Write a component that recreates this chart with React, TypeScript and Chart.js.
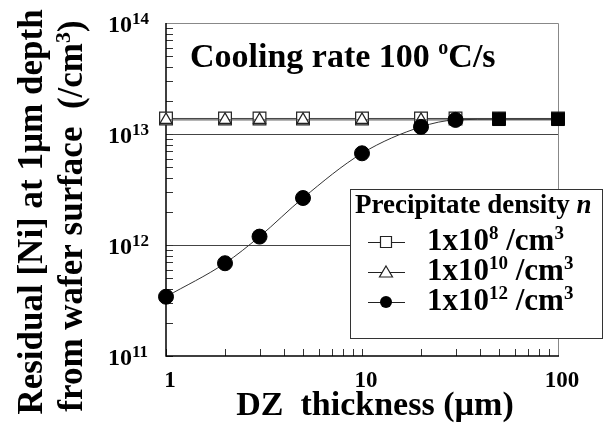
import { useEffect, useRef } from 'react';
import { Chart, registerables } from 'chart.js';

Chart.register(...registerables);

// ---- data ----
const dzThickness = [1, 2, 3, 5, 10, 20, 30, 50, 100];
const niDensity1e8 = [1.38e13, 1.38e13, 1.38e13, 1.38e13, 1.38e13, 1.38e13, 1.38e13, 1.38e13, 1.38e13];
const niDensity1e10 = [1.34e13, 1.34e13, 1.34e13, 1.34e13, 1.34e13, 1.34e13, 1.34e13, 1.34e13, 1.34e13];
const niDensity1e12 = [3.42e11, 6.85e11, 1.19e12, 2.65e12, 6.7e12, 1.16e13, 1.34e13, 1.36e13, 1.36e13];
const densityExponents = ['8', '10', '12'];
const yMajorTicks = [1e11, 1e12, 1e13, 1e14];
const yTickExponents = ['11', '12', '13', '14'];
const yGridValues = [1e12, 1e13];
const xMajorTicks = [1, 10, 100];
const xTickLabels = ['1', '10', '100'];

const FAMILY = '"Liberation Serif", "Times New Roman", Times, serif';
const fnt = (size: number, italic = false) => `${italic ? 'italic ' : ''}bold ${size}px ${FAMILY}`;

type Part = { t: string; sup?: boolean; it?: boolean };

function richWidth(ctx: CanvasRenderingContext2D, parts: Part[], size: number, supSize: number) {
  let w = 0;
  for (const p of parts) {
    ctx.font = fnt(p.sup ? supSize : size, p.it);
    w += ctx.measureText(p.t).width;
  }
  return w;
}

function drawRich(
  ctx: CanvasRenderingContext2D,
  parts: Part[],
  x: number,
  y: number,
  size: number,
  supSize: number,
  supRaise: number
) {
  let cx = x;
  ctx.textAlign = 'left';
  ctx.textBaseline = 'alphabetic';
  for (const p of parts) {
    ctx.font = fnt(p.sup ? supSize : size, p.it);
    ctx.fillText(p.t, cx, p.sup ? y - supRaise : y);
    cx += ctx.measureText(p.t).width;
  }
  return cx;
}

function drawMarker(ctx: CanvasRenderingContext2D, style: string, x: number, y: number) {
  ctx.save();
  ctx.lineWidth = 1.2;
  ctx.strokeStyle = '#222';
  ctx.beginPath();
  if (style === 'rect') {
    ctx.fillStyle = '#fff';
    ctx.rect(x - 5.5, y - 5.5, 11, 11);
    ctx.fill();
    ctx.stroke();
  } else if (style === 'triangle') {
    ctx.fillStyle = '#fff';
    ctx.moveTo(x, y - 6);
    ctx.lineTo(x + 6.5, y + 5);
    ctx.lineTo(x - 6.5, y + 5);
    ctx.closePath();
    ctx.fill();
    ctx.stroke();
  } else {
    ctx.fillStyle = '#000';
    ctx.arc(x, y, 6, 0, Math.PI * 2);
    ctx.fill();
  }
  ctx.restore();
}

const framePlugin = {
  id: 'framePlugin',
  beforeDatasetsDraw(chart: any) {
    const { ctx, chartArea } = chart;
    const { left, right, top, bottom } = chartArea;
    const xs = chart.scales.x;
    const ys = chart.scales.y;
    ctx.save();
    // gridlines
    ctx.strokeStyle = '#444';
    ctx.lineWidth = 1;
    for (const v of yGridValues) {
      const py = Math.round(ys.getPixelForValue(v)) + 0.5;
      ctx.beginPath();
      ctx.moveTo(left, py);
      ctx.lineTo(right, py);
      ctx.stroke();
    }
    // top & right frame
    ctx.strokeStyle = '#888';
    ctx.beginPath();
    ctx.moveTo(left, top + 0.5);
    ctx.lineTo(right + 0.5, top + 0.5);
    ctx.lineTo(right + 0.5, bottom);
    ctx.stroke();
    // minor ticks y
    ctx.strokeStyle = '#333';
    for (let d = 11; d <= 13; d++) {
      for (let m = 1; m <= 9; m++) {
        const py = Math.round(ys.getPixelForValue(m * Math.pow(10, d))) + 0.5;
        ctx.beginPath();
        ctx.moveTo(left, py);
        ctx.lineTo(left + 7, py);
        ctx.stroke();
      }
    }
    // minor ticks x
    for (let d = 0; d <= 1; d++) {
      for (let m = 1; m <= 9; m++) {
        const px = Math.round(xs.getPixelForValue(m * Math.pow(10, d))) + 0.5;
        ctx.beginPath();
        ctx.moveTo(px, bottom);
        ctx.lineTo(px, bottom - 7);
        ctx.stroke();
      }
    }
    // left & bottom axes
    ctx.strokeStyle = '#000';
    ctx.lineWidth = 1.5;
    ctx.beginPath();
    ctx.moveTo(left, top);
    ctx.lineTo(left, bottom);
    ctx.lineTo(right + 1, bottom);
    ctx.stroke();
    ctx.restore();
  },
  afterDraw(chart: any) {
    const { ctx, chartArea } = chart;
    const xs = chart.scales.x;
    const ys = chart.scales.y;
    ctx.save();
    ctx.fillStyle = '#000';

    // y tick labels 10^n
    yMajorTicks.forEach((v, i) => {
      const py = ys.getPixelForValue(v);
      drawRich(ctx, [{ t: '10' }, { t: yTickExponents[i], sup: true }], 108, py + 9, 24, 17, 8);
    });

    // x tick labels
    ctx.font = fnt(23);
    ctx.textAlign = 'center';
    ctx.textBaseline = 'alphabetic';
    xMajorTicks.forEach((v, i) => {
      ctx.fillText(xTickLabels[i], xs.getPixelForValue(v) + 4, 387);
    });

    // x axis title
    ctx.font = fnt(34);
    ctx.fillText('DZ  thickness (\u00b5m)', 375, 415);

    // y axis title (two lines, rotated)
    const line1: Part[] = [{ t: 'Residual [Ni] at 1\u00b5m depth' }];
    const line2: Part[] = [{ t: 'from wafer surface  (/cm' }, { t: '3', sup: true }, { t: ')' }];
    ctx.save();
    ctx.translate(42, 212);
    ctx.rotate(-Math.PI / 2);
    drawRich(ctx, line1, -richWidth(ctx, line1, 35, 22) / 2, 0, 35, 22, 12);
    ctx.restore();
    ctx.save();
    ctx.translate(82, 216);
    ctx.rotate(-Math.PI / 2);
    drawRich(ctx, line2, -richWidth(ctx, line2, 35, 22) / 2, 0, 35, 22, 12);
    ctx.restore();

    // annotation
    drawRich(
      ctx,
      [{ t: 'Cooling rate 100 ' }, { t: 'o', sup: true }, { t: 'C/s' }],
      190,
      67,
      34,
      20,
      13
    );

    // legend box
    const lx = 350, ly = 189, lw = 252, lh = 149;
    ctx.fillStyle = '#fff';
    ctx.fillRect(lx, ly, lw, lh);
    ctx.strokeStyle = '#333';
    ctx.lineWidth = 1;
    ctx.strokeRect(lx + 0.5, ly + 0.5, lw, lh);
    ctx.fillStyle = '#000';
    drawRich(ctx, [{ t: 'Precipitate density ' }, { t: 'n', it: true }], 355, 213, 27, 18, 10);
    const styles = ['rect', 'triangle', 'circle'];
    densityExponents.forEach((e, i) => {
      const yb = 250 + i * 30;
      const ym = yb - 8;
      ctx.strokeStyle = '#222';
      ctx.lineWidth = 1;
      ctx.beginPath();
      ctx.moveTo(368, ym + 0.5);
      ctx.lineTo(405, ym + 0.5);
      ctx.stroke();
      drawMarker(ctx, styles[i], 386, ym);
      ctx.fillStyle = '#000';
      drawRich(ctx, [{ t: '1x10' }, { t: e, sup: true }, { t: ' /cm' }, { t: '3', sup: true }], 427, yb, 31, 19, 11);
    });
    ctx.restore();
  },
};

export default function App() {
  const canvasRef = useRef<HTMLCanvasElement | null>(null);

  useEffect(() => {
    const canvas = canvasRef.current;
    if (!canvas) return;
    const pts = (ys: number[]) => dzThickness.map((x, i) => ({ x, y: ys[i] }));
    const chart = new Chart(canvas, {
      type: 'line',
      data: {
        datasets: [
          {
            label: '1x10^12 /cm^3',
            data: pts(niDensity1e12),
            borderColor: '#333',
            borderWidth: 1,
            pointStyle: ['circle', 'circle', 'circle', 'circle', 'circle', 'circle', 'circle', 'rect', 'rect'] as any,
            pointRadius: [7.5, 7.5, 7.5, 7.5, 7.5, 7.5, 7.5, 9, 9] as any,
            pointBackgroundColor: '#000',
            pointBorderColor: '#000',
            pointBorderWidth: 1,
            cubicInterpolationMode: 'monotone',
            order: 1,
            clip: false as any,
          },
          {
            label: '1x10^10 /cm^3',
            data: pts(niDensity1e10),
            borderColor: '#444',
            borderWidth: 1,
            pointStyle: 'triangle',
            pointRadius: 7,
            pointBackgroundColor: '#fff',
            pointBorderColor: '#222',
            pointBorderWidth: 1.2,
            order: 2,
            clip: false as any,
          },
          {
            label: '1x10^8 /cm^3',
            data: pts(niDensity1e8),
            borderColor: '#444',
            borderWidth: 1,
            pointStyle: 'rect',
            pointRadius: 9,
            pointBackgroundColor: '#fff',
            pointBorderColor: '#222',
            pointBorderWidth: 1.2,
            order: 3,
            clip: false as any,
          },
        ],
      },
      options: {
        responsive: false,
        animation: false,
        devicePixelRatio: 1,
        events: [],
        layout: { padding: { left: 166, right: 50, top: 23, bottom: 85 } },
        plugins: { legend: { display: false }, tooltip: { enabled: false } },
        scales: {
          x: { type: 'logarithmic', min: 1, max: 100, display: false },
          y: { type: 'logarithmic', min: 1e11, max: 1e14, display: false },
        },
      },
      plugins: [framePlugin],
    });
    return () => chart.destroy();
  }, []);

  return (
    <div style={{ position: 'fixed', left: 0, top: 0, width: 608, height: 441, background: '#fff' }}>
      <canvas ref={canvasRef} width={608} height={441} style={{ display: 'block' }} />
    </div>
  );
}
